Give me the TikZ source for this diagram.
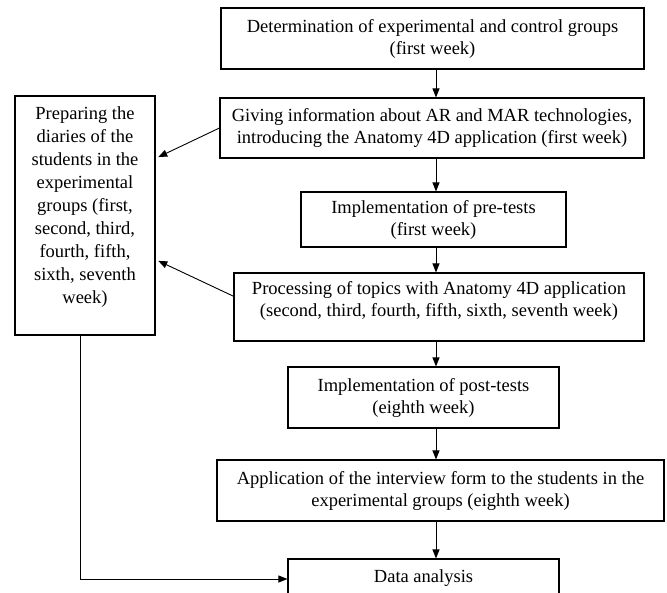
\documentclass[tikz,border=0pt]{standalone}
\usepackage{fontspec}
\setmainfont{Liberation Serif}
\usetikzlibrary{arrows.meta,positioning,calc}

\begin{document}
\begin{tikzpicture}[x=1pt,y=-1pt,
    stagebox/.style={draw, line width=1.1pt, inner sep=0pt, align=center,
        font=\fontsize{18.5}{22}\selectfont},
    flow/.style={-{Triangle[length=9pt,width=7pt]}, line width=0.9pt}]
    \useasboundingbox (0,0) rectangle (667,592);
    \clip (0,0) rectangle (667,592);

    % Main sequence
    \node[stagebox, minimum width=423pt, minimum height=61pt] (groups) at (432.5,38.5)
        {Determination of experimental and control groups\\(first week)};
    \node[stagebox, minimum width=424pt, minimum height=60pt] (info) at (432,128)
        {Giving information about AR and MAR technologies,\\introducing the Anatomy 4D application (first week)};
    \node[stagebox, minimum width=265pt, minimum height=55pt] (pretest) at (433.5,219.5)
        {Implementation of pre-tests\\(first week)};
    \node[stagebox, minimum width=410pt, minimum height=68pt] (topics) at (439,307)
        {Processing of topics with Anatomy 4D application\\(second, third, fourth, fifth, sixth, seventh week)\rule[-17pt]{0pt}{0pt}};
    \node[stagebox, minimum width=271pt, minimum height=61pt] (posttest) at (423.5,397.5)
        {Implementation of post-tests\\(eighth week)};
    \node[stagebox, minimum width=447pt, minimum height=61pt] (interview) at (440.5,490.5)
        {Application of the interview form to the students in the\\experimental groups (eighth week)};
    \node[stagebox, minimum width=271pt, minimum height=40pt] (analysis) at (423.5,579)
        {Data analysis\rule[-6pt]{0pt}{0pt}};

    \coordinate (spine) at (436,0);
    \foreach \src/\dst in {groups/info, info/pretest, pretest/topics, topics/posttest, posttest/interview, interview/analysis}
        \draw[flow] (\src.south -| spine) -- (\dst.north -| spine);

    % Diaries
    \node[stagebox, minimum width=140pt, minimum height=239pt,
        font=\fontsize{18.5}{23.1}\selectfont] (diary) at (85,215.5)
        {Preparing the\\diaries of the\\students in the\\experimental\\groups (first,\\second, third,\\fourth, fifth,\\sixth, seventh\\week)\rule[-21pt]{0pt}{0pt}};
    \draw[flow, shorten >=3pt] (info.west) -- (diary.39);
    \draw[flow, shorten >=3pt] (topics.177.5) -- (diary.-32);
    \draw[flow] ([xshift=-5pt]diary.south) |- (analysis.west);
\end{tikzpicture}
\end{document}
